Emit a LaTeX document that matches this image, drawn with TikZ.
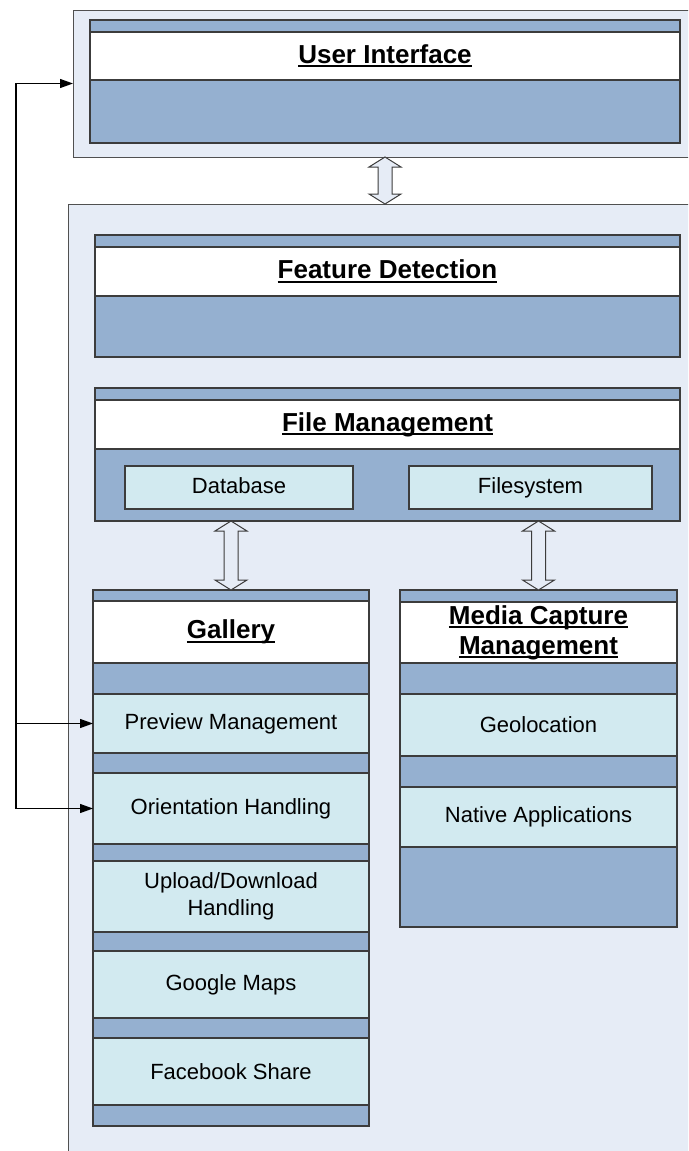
\documentclass[tikz,border=0pt]{standalone}
\usepackage{fontspec}
\setmainfont{Liberation Sans}
\usepackage{tikz}
\usetikzlibrary{positioning}
\usetikzlibrary{arrows.meta}

\definecolor{panelbg}{RGB}{230,236,246}
\definecolor{stripe}{RGB}{149,176,208}
\definecolor{partfill}{RGB}{210,234,240}
\definecolor{boxline}{RGB}{60,60,60}
\definecolor{panelline}{RGB}{80,80,80}

\newcommand{\headfont}{\fontsize{26}{30}\selectfont\bfseries}
\newcommand{\partfont}{\fontsize{22}{27}\selectfont}
% thick underline close to the baseline
\newcommand{\uline}[1]{\setbox0\hbox{#1}\rlap{\rule[-4pt]{\wd0}{2pt}}\box0}

\tikzstyle{panel}=[draw=panelline, fill=panelbg, line width=1pt, inner sep=0pt, outer sep=0pt, anchor=north west]
\tikzstyle{layer}=[draw=boxline, fill=stripe, line width=1.2pt, inner sep=0pt, outer sep=0pt, anchor=north west]
\tikzstyle{head}=[draw=boxline, fill=white, line width=1.2pt, inner sep=0pt, outer sep=0pt, font=\headfont, align=center]
\tikzstyle{part}=[draw=boxline, fill=partfill, line width=1.2pt, inner sep=0pt, outer sep=0pt, font=\partfont, align=center]
\tikzstyle{link}=[-{Triangle[length=13pt,width=9pt]}, line width=1.2pt]
\tikzstyle{hollow}=[draw=boxline, fill=panelbg, line width=1pt]

% hollow up/down arrow, tip at #1, #2 long
\newcommand{\dblarrow}[2]{%
  \draw[hollow] (#1) -- ++(-16,10) -- ++(9,0) -- ++(0,#2-20) -- ++(-9,0)
    -- ++(16,10) -- ++(16,-10) -- ++(-9,0) -- ++(0,20-#2) -- ++(9,0) -- cycle;}

\begin{document}
\begin{tikzpicture}[x=1pt, y=-1pt]
  \useasboundingbox (0,0) rectangle (688,1151);
  \clip (0,0) rectangle (688,1151);

  % panels
  \node[panel, minimum width=630pt, minimum height=147pt] (uipanel) at (73,10) {};
  \node[panel, minimum width=640pt, minimum height=960pt] (core) at (68,204) {};

  % user interface
  \node[layer, minimum width=590pt, minimum height=123pt] (ui) at (90,20) {};
  \node[head, minimum width=590pt, minimum height=48pt, below=12pt of ui.north] (uititle) {\uline{User Interface}};

  % feature detection
  \node[layer, minimum width=585pt, minimum height=122pt] (fd) at (95,235) {};
  \node[head, minimum width=585pt, minimum height=49pt, below=12pt of fd.north] (fdtitle) {\uline{Feature Detection}};

  % file management
  \node[layer, minimum width=585pt, minimum height=133pt] (fm) at (95,388) {};
  \node[head, minimum width=585pt, minimum height=49pt, below=12pt of fm.north] (fmtitle) {\uline{File Management}};
  \node[part, anchor=north west, minimum width=228pt, minimum height=43pt, text height=16pt, text depth=5pt] (db) at (125,466) {Database};
  \node[part, anchor=north west, minimum width=243pt, minimum height=43pt, text height=16pt, text depth=5pt] (fs) at (409,466) {Filesystem};

  % gallery
  \node[layer, minimum width=276pt, minimum height=536pt] (gal) at (93,590) {};
  \node[head, minimum width=276pt, minimum height=62pt, below=11pt of gal.north] (galtitle) {\uline{Gallery}};
  \node[part, minimum width=276pt, minimum height=59pt, below=31pt of galtitle] (prev) {Preview Management};
  \node[part, minimum width=276pt, minimum height=71pt, below=20pt of prev] (orient) {Orientation Handling};
  \node[part, minimum width=276pt, minimum height=71pt, below=17pt of orient] (updown) {Upload/Download\\Handling};
  \node[part, minimum width=276pt, minimum height=67pt, below=19pt of updown] (maps) {Google Maps};
  \node[part, minimum width=276pt, minimum height=67pt, below=20pt of maps] (fb) {Facebook Share};

  % media capture
  \node[layer, minimum width=277pt, minimum height=337pt] (mcm) at (400,590) {};
  \node[head, minimum width=277pt, minimum height=61pt, below=12pt of mcm.north] (mcmtitle) {\uline{Media Capture}\\\uline{Management}};
  \node[part, minimum width=277pt, minimum height=62pt, below=31pt of mcmtitle] (geo) {Geolocation};
  \node[part, minimum width=277pt, minimum height=60pt, below=31pt of geo] (native) {Native Applications};

  % double arrows
  \dblarrow{uipanel.south -| ui.south}{47}
  \dblarrow{fm.south -| gal.north}{69}
  \dblarrow{fm.south -| mcm.north}{69}

  % links back to the user interface
  \coordinate (bus) at (16,0);
  \draw[link] (bus |- orient.west) |- (uipanel.west);
  \draw[link] (bus |- orient.west) -- (orient.west);
  \draw[link] (bus |- prev.west) -- (prev.west);
\end{tikzpicture}
\end{document}
